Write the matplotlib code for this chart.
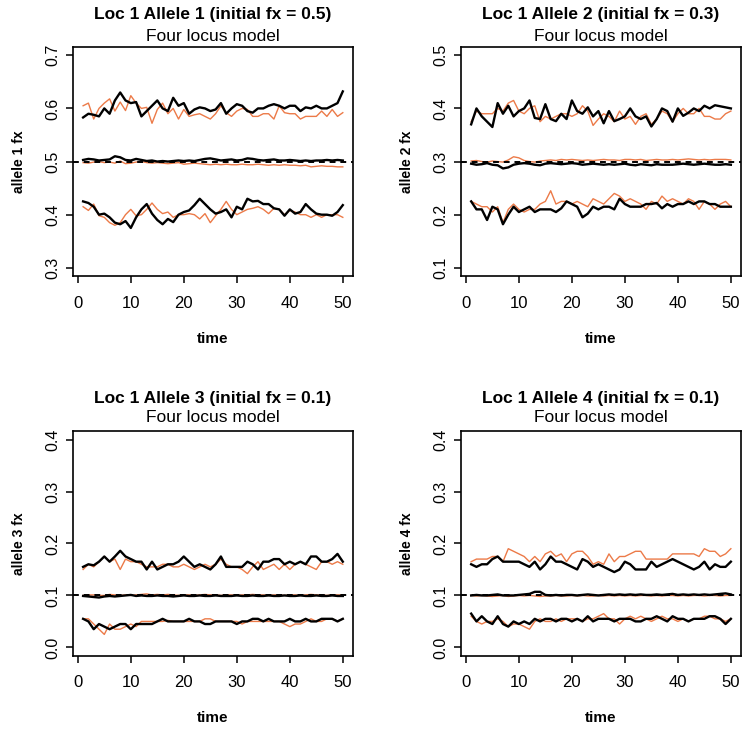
import numpy as np
import matplotlib.pyplot as plt

plt.rcParams['font.family'] = ['Liberation Sans', 'DejaVu Sans']

time = list(range(1, 51))
titles = ["Loc 1 Allele 1 (initial fx = 0.5)", "Loc 1 Allele 2 (initial fx = 0.3)",
          "Loc 1 Allele 3 (initial fx = 0.1)", "Loc 1 Allele 4 (initial fx = 0.1)"]
subtitle = "Four locus model"
ylabels = ["allele 1 fx", "allele 2 fx", "allele 3 fx", "allele 4 fx"]
initial_fx = [0.5, 0.3, 0.1, 0.1]
ylims = [(0.3, 0.7), (0.1, 0.5), (0.0, 0.4), (0.0, 0.4)]

# allele 1
a1_hi_black = [0.583, 0.590, 0.588, 0.585, 0.600, 0.590, 0.615, 0.630, 0.615, 0.610,
               0.612, 0.585, 0.595, 0.605, 0.615, 0.600, 0.595, 0.620, 0.605, 0.610,
               0.590, 0.598, 0.602, 0.600, 0.595, 0.598, 0.610, 0.590, 0.600, 0.608,
               0.605, 0.595, 0.592, 0.600, 0.600, 0.605, 0.608, 0.605, 0.600, 0.605,
               0.605, 0.595, 0.602, 0.600, 0.605, 0.600, 0.600, 0.605, 0.610, 0.632]
a1_hi_orange = [0.605, 0.610, 0.580, 0.600, 0.610, 0.618, 0.595, 0.612, 0.596, 0.624,
                0.610, 0.600, 0.602, 0.572, 0.598, 0.610, 0.590, 0.600, 0.580, 0.598,
                0.585, 0.588, 0.590, 0.585, 0.580, 0.590, 0.605, 0.592, 0.585, 0.595,
                0.600, 0.598, 0.585, 0.585, 0.590, 0.590, 0.580, 0.605, 0.592, 0.590,
                0.590, 0.580, 0.585, 0.585, 0.585, 0.595, 0.585, 0.598, 0.585, 0.592]
a1_mid_black = [0.503, 0.505, 0.504, 0.502, 0.503, 0.504, 0.510, 0.508, 0.503, 0.502,
                0.505, 0.503, 0.501, 0.502, 0.500, 0.501, 0.500, 0.501, 0.502, 0.501,
                0.502, 0.501, 0.503, 0.505, 0.506, 0.504, 0.502, 0.503, 0.504, 0.502,
                0.503, 0.506, 0.505, 0.503, 0.502, 0.503, 0.504, 0.502, 0.502, 0.503,
                0.502, 0.501, 0.502, 0.501, 0.502, 0.502, 0.503, 0.502, 0.503, 0.502]
a1_mid_orange = [0.498, 0.497, 0.499, 0.500, 0.498, 0.499, 0.497, 0.501, 0.496, 0.497,
                 0.499, 0.500, 0.498, 0.497, 0.498, 0.497, 0.496, 0.497, 0.498, 0.495,
                 0.496, 0.497, 0.496, 0.495, 0.494, 0.495, 0.494, 0.495, 0.494, 0.494,
                 0.495, 0.494, 0.494, 0.495, 0.494, 0.493, 0.494, 0.493, 0.494, 0.493,
                 0.493, 0.492, 0.493, 0.490, 0.491, 0.492, 0.491, 0.491, 0.490, 0.490]
a1_lo_black = [0.425, 0.422, 0.415, 0.400, 0.402, 0.395, 0.385, 0.382, 0.388, 0.375,
               0.395, 0.410, 0.420, 0.402, 0.390, 0.382, 0.392, 0.386, 0.400, 0.405,
               0.408, 0.418, 0.430, 0.420, 0.410, 0.402, 0.405, 0.410, 0.395, 0.415,
               0.410, 0.430, 0.425, 0.426, 0.420, 0.420, 0.412, 0.410, 0.398, 0.410,
               0.402, 0.405, 0.420, 0.410, 0.402, 0.400, 0.400, 0.398, 0.405, 0.418]
a1_lo_orange = [0.415, 0.408, 0.420, 0.398, 0.395, 0.385, 0.380, 0.385, 0.400, 0.410,
                0.398, 0.400, 0.410, 0.422, 0.410, 0.402, 0.405, 0.395, 0.400, 0.400,
                0.402, 0.400, 0.392, 0.402, 0.385, 0.398, 0.410, 0.425, 0.410, 0.400,
                0.405, 0.410, 0.412, 0.415, 0.410, 0.402, 0.412, 0.410, 0.400, 0.408,
                0.405, 0.400, 0.400, 0.395, 0.400, 0.395, 0.400, 0.400, 0.400, 0.395]

# allele 2
a2_hi_black = [0.370, 0.400, 0.385, 0.375, 0.365, 0.410, 0.390, 0.405, 0.385, 0.395,
               0.400, 0.415, 0.382, 0.380, 0.408, 0.380, 0.376, 0.390, 0.380, 0.415,
               0.395, 0.390, 0.402, 0.385, 0.395, 0.372, 0.395, 0.376, 0.380, 0.385,
               0.400, 0.385, 0.380, 0.385, 0.366, 0.380, 0.400, 0.395, 0.375, 0.400,
               0.386, 0.392, 0.400, 0.395, 0.405, 0.400, 0.406, 0.404, 0.402, 0.400]
a2_hi_orange = [0.375, 0.395, 0.390, 0.390, 0.390, 0.400, 0.395, 0.410, 0.415, 0.395,
                0.390, 0.400, 0.405, 0.375, 0.385, 0.380, 0.385, 0.390, 0.390, 0.385,
                0.390, 0.405, 0.395, 0.368, 0.380, 0.390, 0.385, 0.375, 0.395, 0.380,
                0.385, 0.370, 0.385, 0.390, 0.370, 0.380, 0.395, 0.390, 0.375, 0.390,
                0.400, 0.390, 0.390, 0.400, 0.385, 0.385, 0.380, 0.380, 0.390, 0.395]
a2_mid_black = [0.296, 0.294, 0.295, 0.297, 0.294, 0.293, 0.287, 0.289, 0.294, 0.296,
                0.297, 0.296, 0.294, 0.293, 0.296, 0.297, 0.296, 0.295, 0.296, 0.297,
                0.296, 0.294, 0.295, 0.296, 0.295, 0.294, 0.295, 0.294, 0.295, 0.296,
                0.294, 0.293, 0.295, 0.294, 0.293, 0.295, 0.294, 0.294, 0.294, 0.295,
                0.296, 0.295, 0.294, 0.295, 0.296, 0.295, 0.294, 0.294, 0.295, 0.294]
a2_mid_orange = [0.301, 0.302, 0.300, 0.299, 0.301, 0.300, 0.299, 0.303, 0.309, 0.307,
                 0.302, 0.300, 0.299, 0.301, 0.302, 0.303, 0.302, 0.304, 0.303, 0.304,
                 0.303, 0.302, 0.303, 0.302, 0.303, 0.304, 0.303, 0.303, 0.302, 0.304,
                 0.304, 0.303, 0.304, 0.302, 0.303, 0.304, 0.303, 0.303, 0.304, 0.303,
                 0.304, 0.305, 0.304, 0.303, 0.304, 0.303, 0.304, 0.304, 0.304, 0.303]
a2_lo_black = [0.225, 0.210, 0.210, 0.190, 0.215, 0.210, 0.182, 0.200, 0.215, 0.205,
               0.210, 0.215, 0.205, 0.210, 0.210, 0.210, 0.205, 0.212, 0.225, 0.220,
               0.215, 0.195, 0.202, 0.215, 0.210, 0.215, 0.215, 0.210, 0.230, 0.220,
               0.215, 0.215, 0.215, 0.220, 0.220, 0.222, 0.212, 0.220, 0.215, 0.220,
               0.220, 0.225, 0.220, 0.225, 0.225, 0.220, 0.220, 0.215, 0.215, 0.215]
a2_lo_orange = [0.225, 0.220, 0.215, 0.215, 0.205, 0.215, 0.185, 0.210, 0.220, 0.210,
                0.205, 0.210, 0.210, 0.220, 0.225, 0.245, 0.220, 0.225, 0.225, 0.220,
                0.225, 0.220, 0.215, 0.230, 0.225, 0.220, 0.230, 0.240, 0.235, 0.225,
                0.230, 0.225, 0.220, 0.210, 0.225, 0.220, 0.235, 0.225, 0.230, 0.225,
                0.220, 0.230, 0.225, 0.210, 0.225, 0.220, 0.210, 0.220, 0.225, 0.215]

# allele 3
a3_hi_black = [0.155, 0.160, 0.158, 0.165, 0.175, 0.165, 0.175, 0.186, 0.175, 0.170,
               0.165, 0.165, 0.150, 0.165, 0.150, 0.155, 0.160, 0.160, 0.165, 0.175,
               0.165, 0.155, 0.160, 0.155, 0.150, 0.160, 0.175, 0.155, 0.155, 0.155,
               0.155, 0.165, 0.160, 0.150, 0.165, 0.165, 0.170, 0.170, 0.160, 0.165,
               0.160, 0.165, 0.160, 0.175, 0.175, 0.165, 0.165, 0.170, 0.180, 0.165]
a3_hi_orange = [0.150, 0.160, 0.155, 0.165, 0.175, 0.165, 0.170, 0.150, 0.170, 0.165,
                0.165, 0.160, 0.155, 0.155, 0.155, 0.160, 0.160, 0.155, 0.155, 0.160,
                0.155, 0.150, 0.155, 0.160, 0.155, 0.160, 0.170, 0.160, 0.155, 0.155,
                0.150, 0.142, 0.155, 0.165, 0.150, 0.155, 0.160, 0.150, 0.160, 0.150,
                0.160, 0.165, 0.160, 0.155, 0.150, 0.165, 0.165, 0.160, 0.165, 0.160]
a3_mid_black = [0.099, 0.098, 0.097, 0.096, 0.098, 0.099, 0.098, 0.099, 0.100, 0.101,
                0.099, 0.100, 0.099, 0.099, 0.100, 0.099, 0.099, 0.098, 0.099, 0.100,
                0.099, 0.099, 0.100, 0.099, 0.099, 0.100, 0.099, 0.099, 0.099, 0.100,
                0.099, 0.099, 0.100, 0.099, 0.099, 0.100, 0.099, 0.099, 0.100, 0.099,
                0.099, 0.100, 0.099, 0.099, 0.100, 0.099, 0.099, 0.100, 0.099, 0.099]
a3_mid_orange = [0.100, 0.101, 0.101, 0.100, 0.100, 0.102, 0.101, 0.100, 0.101, 0.100,
                 0.101, 0.102, 0.103, 0.101, 0.102, 0.101, 0.102, 0.101, 0.100, 0.101,
                 0.101, 0.100, 0.101, 0.102, 0.101, 0.101, 0.100, 0.101, 0.101, 0.100,
                 0.101, 0.101, 0.102, 0.101, 0.101, 0.100, 0.101, 0.101, 0.100, 0.101,
                 0.101, 0.100, 0.101, 0.102, 0.101, 0.101, 0.100, 0.101, 0.101, 0.101]
a3_lo_black = [0.055, 0.050, 0.035, 0.045, 0.040, 0.035, 0.040, 0.045, 0.045, 0.035,
               0.045, 0.045, 0.045, 0.045, 0.050, 0.055, 0.050, 0.050, 0.050, 0.050,
               0.055, 0.050, 0.050, 0.045, 0.045, 0.050, 0.050, 0.050, 0.050, 0.045,
               0.050, 0.050, 0.055, 0.055, 0.050, 0.055, 0.050, 0.050, 0.050, 0.055,
               0.050, 0.050, 0.055, 0.050, 0.050, 0.055, 0.055, 0.055, 0.050, 0.055]
a3_lo_orange = [0.055, 0.055, 0.045, 0.035, 0.025, 0.045, 0.035, 0.035, 0.040, 0.045,
                0.040, 0.050, 0.050, 0.050, 0.050, 0.050, 0.052, 0.050, 0.050, 0.050,
                0.050, 0.050, 0.050, 0.055, 0.055, 0.050, 0.050, 0.050, 0.050, 0.050,
                0.045, 0.050, 0.050, 0.050, 0.050, 0.050, 0.050, 0.050, 0.045, 0.040,
                0.045, 0.045, 0.050, 0.055, 0.050, 0.050, 0.055, 0.055, 0.050, 0.055]

# allele 4
a4_hi_black = [0.160, 0.155, 0.160, 0.160, 0.170, 0.175, 0.165, 0.165, 0.165, 0.165,
               0.160, 0.155, 0.165, 0.150, 0.160, 0.175, 0.165, 0.165, 0.160, 0.155,
               0.150, 0.170, 0.165, 0.155, 0.160, 0.155, 0.150, 0.145, 0.150, 0.165,
               0.160, 0.150, 0.150, 0.150, 0.165, 0.155, 0.160, 0.165, 0.170, 0.165,
               0.160, 0.155, 0.150, 0.155, 0.165, 0.150, 0.160, 0.155, 0.155, 0.165]
a4_hi_orange = [0.165, 0.170, 0.170, 0.170, 0.175, 0.175, 0.165, 0.190, 0.185, 0.180,
                0.175, 0.165, 0.175, 0.165, 0.180, 0.185, 0.175, 0.180, 0.165, 0.180,
                0.185, 0.185, 0.175, 0.160, 0.165, 0.160, 0.180, 0.165, 0.175, 0.175,
                0.180, 0.185, 0.185, 0.170, 0.170, 0.170, 0.170, 0.170, 0.180, 0.180,
                0.180, 0.180, 0.180, 0.175, 0.190, 0.185, 0.185, 0.175, 0.180, 0.190]
a4_mid_black = [0.100, 0.101, 0.100, 0.100, 0.101, 0.102, 0.100, 0.100, 0.100, 0.101,
                0.102, 0.103, 0.107, 0.107, 0.101, 0.100, 0.101, 0.100, 0.101, 0.101,
                0.100, 0.101, 0.102, 0.101, 0.100, 0.101, 0.102, 0.101, 0.102, 0.101,
                0.102, 0.101, 0.102, 0.101, 0.101, 0.102, 0.101, 0.102, 0.103, 0.101,
                0.102, 0.101, 0.102, 0.101, 0.102, 0.101, 0.102, 0.103, 0.104, 0.102]
a4_mid_orange = [0.100, 0.099, 0.100, 0.099, 0.098, 0.099, 0.100, 0.098, 0.099, 0.100,
                 0.099, 0.100, 0.099, 0.098, 0.099, 0.099, 0.100, 0.099, 0.099, 0.100,
                 0.099, 0.100, 0.099, 0.099, 0.100, 0.099, 0.100, 0.099, 0.100, 0.099,
                 0.100, 0.099, 0.100, 0.100, 0.099, 0.100, 0.099, 0.100, 0.100, 0.099,
                 0.100, 0.099, 0.100, 0.100, 0.099, 0.100, 0.100, 0.099, 0.100, 0.100]
a4_lo_black = [0.065, 0.050, 0.060, 0.050, 0.045, 0.060, 0.045, 0.040, 0.050, 0.045,
               0.050, 0.045, 0.055, 0.050, 0.055, 0.055, 0.050, 0.055, 0.055, 0.050,
               0.055, 0.050, 0.060, 0.050, 0.055, 0.055, 0.055, 0.050, 0.055, 0.055,
               0.055, 0.050, 0.050, 0.055, 0.055, 0.060, 0.055, 0.050, 0.060, 0.055,
               0.055, 0.050, 0.055, 0.055, 0.055, 0.060, 0.060, 0.055, 0.045, 0.055]
a4_lo_orange = [0.060, 0.050, 0.045, 0.050, 0.050, 0.055, 0.050, 0.040, 0.045, 0.045,
                0.040, 0.035, 0.050, 0.055, 0.050, 0.050, 0.055, 0.050, 0.055, 0.055,
                0.055, 0.050, 0.055, 0.055, 0.060, 0.065, 0.055, 0.055, 0.045, 0.055,
                0.060, 0.055, 0.060, 0.055, 0.050, 0.055, 0.060, 0.055, 0.055, 0.050,
                0.055, 0.050, 0.055, 0.055, 0.060, 0.060, 0.055, 0.055, 0.050, 0.055]

black_series = [[a1_hi_black, a1_mid_black, a1_lo_black],
                [a2_hi_black, a2_mid_black, a2_lo_black],
                [a3_hi_black, a3_mid_black, a3_lo_black],
                [a4_hi_black, a4_mid_black, a4_lo_black]]
orange_series = [[a1_hi_orange, a1_mid_orange, a1_lo_orange],
                 [a2_hi_orange, a2_mid_orange, a2_lo_orange],
                 [a3_hi_orange, a3_mid_orange, a3_lo_orange],
                 [a4_hi_orange, a4_mid_orange, a4_lo_orange]]

orange = "#EC7A48"

fig = plt.figure(figsize=(7.42, 7.31), dpi=100)
# axes boxes, R-style 2x2 layout (right column runs off the image edge)
boxes = [[0.098, 0.622, 0.378, 0.314], [0.621, 0.622, 0.378, 0.314],
         [0.098, 0.103, 0.378, 0.307], [0.621, 0.103, 0.378, 0.307]]
# title / subtitle heights above the box, in axes fraction
title_y = [1.139, 1.139, 1.147, 1.147]
sub_y = [1.044, 1.044, 1.062, 1.062]

for i in range(4):
    ax = fig.add_axes(boxes[i])
    for s in orange_series[i]:
        ax.plot(time, s, color=orange, lw=1.0)
    for s in black_series[i]:
        ax.plot(time, s, color="black", lw=1.7)
    ax.axhline(initial_fx[i], color="black", lw=1.4, ls=(0, (3, 2.5)))

    lo, hi = ylims[i]
    pad = (hi - lo) * 0.04
    ax.set_ylim(lo - pad, hi + pad)
    ax.set_xlim(1 - 49 * 0.04, 50 + 49 * 0.04)
    ax.set_xticks([0, 10, 20, 30, 40, 50])
    ax.set_yticks(np.round(np.arange(lo, hi + 0.001, 0.1), 1))
    ax.set_yticklabels(["%.1f" % v for v in np.arange(lo, hi + 0.001, 0.1)],
                       rotation=90, va="center")
    ax.tick_params(axis="x", labelsize=12, length=5, width=1.1, pad=9)
    ax.tick_params(axis="y", labelsize=11.5, length=5, width=1.1, pad=4)
    for sp in ax.spines.values():
        sp.set_linewidth(1.2)
    ax.set_xlabel("time", fontsize=11, fontweight="bold", labelpad=15)
    ax.set_ylabel(ylabels[i], fontsize=10, fontweight="bold", labelpad=14)
    ax.text(0.5, title_y[i], titles[i], transform=ax.transAxes,
            ha="center", va="center", fontsize=12.5, fontweight="bold")
    ax.text(0.5, sub_y[i], subtitle, transform=ax.transAxes,
            ha="center", va="center", fontsize=12.5)

fig.savefig("out.png", dpi=100)
